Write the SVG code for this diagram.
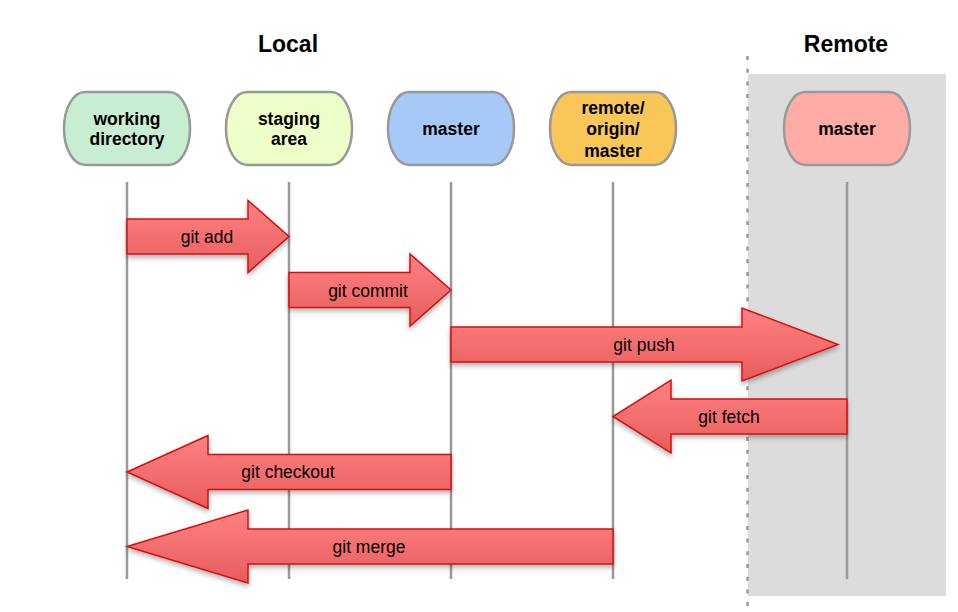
<svg xmlns="http://www.w3.org/2000/svg" width="958" height="612" viewBox="0 0 958 612">
<style>
.hdr{font-family:"Liberation Sans",Arial,sans-serif;font-weight:bold;font-size:23px;fill:#000;text-anchor:middle}
.nt{font-family:"Liberation Sans",Arial,sans-serif;font-weight:bold;font-size:17.5px;fill:#000;text-anchor:middle}
.node{stroke:#999;stroke-width:2.5}
.life{stroke:#999;stroke-width:2.5;fill:none}
.arr{fill:url(#rg);stroke:#d41010;stroke-width:1.5;filter:url(#sh)}
.lbl{font-family:"Liberation Sans",Arial,sans-serif;font-size:17.5px;fill:#000;text-anchor:middle}
</style>
<defs>
<linearGradient id="rg" x1="0" y1="0" x2="0" y2="1">
<stop offset="0" stop-color="#ff8282"/>
<stop offset="1" stop-color="#e85c5c"/>
</linearGradient>
<filter id="sh" x="-10%" y="-20%" width="120%" height="150%">
<feGaussianBlur in="SourceAlpha" stdDeviation="2.5"/>
<feOffset dx="0" dy="3" result="b"/>
<feComponentTransfer><feFuncA type="linear" slope="0.3"/></feComponentTransfer>
<feMerge><feMergeNode/><feMergeNode in="SourceGraphic"/></feMerge>
</filter>
</defs>
<rect width="958" height="612" fill="#fff"/>
<rect x="748" y="74" width="198" height="522" fill="#dcdcdc"/>
<line x1="747.5" y1="56" x2="747.5" y2="608" stroke="#999" stroke-width="2.5" stroke-dasharray="4 8.7"/>
<text class="hdr" x="288" y="52">Local</text>
<text class="hdr" x="846" y="52">Remote</text>
<g id="lifelines">
<line class="life" x1="127" y1="182" x2="127" y2="579"/>
<line class="life" x1="289" y1="182" x2="289" y2="579"/>
<line class="life" x1="451" y1="182" x2="451" y2="579"/>
<line class="life" x1="613" y1="182" x2="613" y2="579"/>
<line class="life" x1="847" y1="182" x2="847" y2="579"/>
</g>
<g id="working-directory">
<rect class="node" x="64" y="92" width="126" height="73" rx="21" ry="36" fill="#c8eed2"/>
<text class="nt" x="127" y="125">working</text>
<text class="nt" x="127" y="145">directory</text>
</g>
<g id="staging-area">
<rect class="node" x="226" y="92" width="126" height="73" rx="21" ry="36" fill="#eefec8"/>
<text class="nt" x="289" y="125">staging</text>
<text class="nt" x="289" y="145">area</text>
</g>
<g id="master-local">
<rect class="node" x="388" y="92" width="126" height="73" rx="21" ry="36" fill="#a6c9f7"/>
<text class="nt" x="451" y="135">master</text>
</g>
<g id="remote-origin-master">
<rect class="node" x="550" y="92" width="126" height="73" rx="21" ry="36" fill="#f9c757"/>
<text class="nt" x="613" y="114">remote/</text>
<text class="nt" x="613" y="135">origin/</text>
<text class="nt" x="613" y="157">master</text>
</g>
<g id="master-remote">
<rect class="node" x="784" y="92" width="126" height="73" rx="21" ry="36" fill="#ffaca7"/>
<text class="nt" x="847" y="135">master</text>
</g>
<g id="connectors">
<g id="git-add">
<polygon class="arr" points="127,219 248,219 248,200.5 289,236.5 248,272.5 248,254 127,254"/>
<text class="lbl" x="207" y="243">git add</text>
</g>
<g id="git-commit">
<polygon class="arr" points="289,272.5 410,272.5 410,254 451,290 410,326 410,307.5 289,307.5"/>
<text class="lbl" x="368" y="297">git commit</text>
</g>
<g id="git-push">
<polygon class="arr" points="451,327 742,327 742,308 838,344.5 742,381 742,362 451,362"/>
<text class="lbl" x="644" y="351">git push</text>
</g>
<g id="git-fetch">
<polygon class="arr" points="847,399 671,399 671,380 613,416.5 671,453 671,434 847,434"/>
<text class="lbl" x="729" y="423">git fetch</text>
</g>
<g id="git-checkout">
<polygon class="arr" points="451,454.5 208,454.5 208,435.5 127,472 208,508.5 208,489.5 451,489.5"/>
<text class="lbl" x="288" y="478">git checkout</text>
</g>
<g id="git-merge">
<polygon class="arr" points="613,529 248,529 248,510 127,546.5 248,583 248,564 613,564"/>
<text class="lbl" x="369" y="553">git merge</text>
</g>
</g>
</svg>
